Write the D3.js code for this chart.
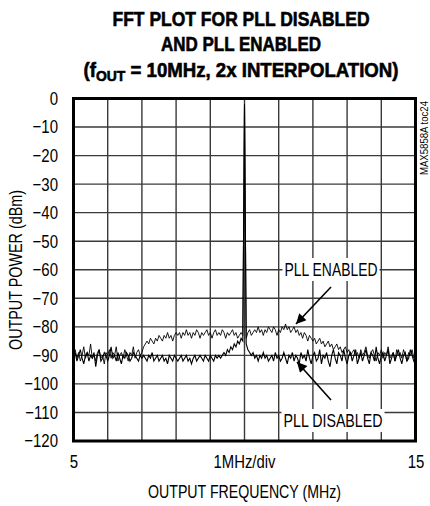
<!DOCTYPE html>
<html><head><meta charset="utf-8">
<script src="https://cdn.jsdelivr.net/npm/d3@7"></script>
<style>body{margin:0;background:#fff}</style>
</head><body><svg id="c" width="430" height="506"></svg>
<script>
// ---- data ----
const freqStart = 5, freqStep = 0.05;   // MHz, sample spacing of the traces
const pllEnabled = [
-90,-88,-91,-89,-92,-90,-87,-91,-89,-90,
-86,-91,-90,-92,-89,-88,-91,-90,-93,-89,
-90,-88,-91,-89,-90,-87,-92,-90,-89,-91,
-88,-90,-92,-89,-90,-87,-91,-89,-88,-90,
-89,
-87,-86,-85,-86,-84,-85,-86,-84,-85,-83,
-84,-85,-83,-84,-82,-84,-83,-85,-83,-82,
-83,-82,-84,-82,-83,-81,-83,-82,-84,-82,
-83,-81,-82,-84,-82,-83,-82,-81,-83,-82,
-84,-82,-81,-83,-82,-83,-81,-82,-84,-82,
-83,-82,-81,-83,-82,-84,-83,-82,-83,
-2,
-84,-82,-81,-83,-82,-81,-82,-80,-82,-81,
-83,-81,-82,-80,-81,-82,-80,-81,-83,-81,
-82,-80,-81,-79,-81,-80,-82,-81,-80,-82,
-81,-83,-82,-84,-82,-83,-85,-83,-84,-85,
-84,-86,-85,-84,-86,-85,-87,-86,-85,-87,
-86,-88,-87,-86,-88,-87,-89,-88,-87,-89,
-88,-90,-89,-88,-90,-89,-91,-88,-90,-89,
-87,-90,-91,-89,-88,-90,-92,-89,-90,-88,
-91,-89,-90,-87,-91,-90,-89,-92,-88,-90,
-89,-91,-88,-90,-92,-89,-90,-88,-91,-90
];
const pllDisabled = [
-91,-89,-92,-90,-88,-91,-93,-90,-89,-92,
-90,-91,-89,-94,-90,-88,-92,-91,-89,-90,
-92,-90,-87,-91,-90,-92,-89,-91,-93,-90,
-91,-89,-90,-92,-91,-89,-90,-91,-92,-90,
-91,
-90,-91,-92,-90,-91,-89,-92,-91,-90,-92,
-91,-90,-92,-91,-93,-90,-91,-92,-90,-91,
-92,-91,-90,-92,-91,-90,-92,-91,-93,-91,
-90,-92,-91,-90,-91,-92,-90,-91,-92,-90,
-91,-92,-90,-91,-90,
-91,-90,-89,-90,-88,-89,-87,-88,-86,-87,
-85,-86,-84,-85,
-3,
-86,-88,-89,-90,-89,-91,-90,-92,-90,-91,
-89,-91,-90,-92,-91,-90,-92,-89,-91,-90,
-92,-91,-89,-91,-93,-90,-91,-89,-92,-90,
-91,-93,-89,-91,-90,-92,-88,-91,-93,-90,
-89,-92,-91,-88,-93,-90,-91,-89,-92,-94,
-90,-88,-91,-93,-89,-90,-92,-88,-91,-93,
-90,-89,-92,-90,-88,-93,-91,-89,-92,-90,
-88,-91,-93,-89,-90,-92,-87,-91,-93,-90,
-89,-92,-90,-88,-93,-91,-89,-92,-90,-88,
-91,-93,-90,-89,-92,-91,-88,-90,-92,-91
];
const yTicks = [0,-10,-20,-30,-40,-50,-60,-70,-80,-90,-100,-110,-120];
const xGrid = [6,7,8,9,10,11,12,13,14];
const xTickLabels = [5,15];
const titleLines = ["FFT PLOT FOR PLL DISABLED","AND PLL ENABLED"];
const xCenterLabel = "1MHz/div";
const xTitle = "OUTPUT FREQUENCY (MHz)";
const yTitle = "OUTPUT POWER (dBm)";
const tocLabel = "MAX5858A toc24";

// ---- layout ----
const svg = d3.select("#c");
const M = {left:73.5, right:415.5, top:98.5, bottom:441};
const x = d3.scaleLinear().domain([5,15]).range([M.left,M.right]);
const y = d3.scaleLinear().domain([-120,0]).range([M.bottom,M.top]);
const FONT = "'Liberation Sans',Arial,Helvetica,sans-serif";

// condense text horizontally (emulates a narrow face)
function squeeze(sel, k){
  sel.each(function(){
    const w = this.getComputedTextLength();
    d3.select(this).attr("textLength", w*k).attr("lengthAdjust","spacingAndGlyphs");
  });
}
function fixLen(sel, w){ sel.attr("textLength", w).attr("lengthAdjust","spacingAndGlyphs"); }

// title
const tg = svg.append("g").attr("font-family",FONT).attr("font-weight","bold")
  .attr("font-size",20).attr("text-anchor","middle").attr("fill","#000")
  .attr("stroke","#000").attr("stroke-width",0.6);
const titleW = [257,160];
titleLines.forEach((t,i)=>fixLen(tg.append("text").attr("x",241).attr("y",25.5+i*25).text(t), titleW[i]));
const t3 = tg.append("text").attr("x",241).attr("y",76.5);
t3.append("tspan").text("(f");
t3.append("tspan").attr("font-size",15).attr("dy",4).text("OUT");
t3.append("tspan").attr("dy",-4).text(" = 10MHz, 2x INTERPOLATION)");
fixLen(t3, 315);

// grid
const grid = svg.append("g").attr("stroke","#3a3a3a").attr("stroke-width",1.4);
grid.selectAll("line.v").data(xGrid).join("line").attr("class","v")
  .attr("x1",d=>x(d)).attr("x2",d=>x(d)).attr("y1",M.top).attr("y2",M.bottom);
grid.selectAll("line.h").data(yTicks.slice(1,-1)).join("line").attr("class","h")
  .attr("y1",d=>y(d)).attr("y2",d=>y(d)).attr("x1",M.left).attr("x2",M.right);

// traces
svg.append("clipPath").attr("id","clip").append("rect")
  .attr("x",M.left).attr("y",M.top).attr("width",M.right-M.left).attr("height",M.bottom-M.top);
const line = d3.line().x((d,i)=>x(freqStart+i*freqStep)).y(d=>y(d));
const tr = svg.append("g").attr("clip-path","url(#clip)").attr("fill","none").attr("stroke","#000");
tr.append("path").datum(pllDisabled).attr("d",line).attr("stroke-width",1.1);
tr.append("path").datum(pllEnabled).attr("d",line).attr("stroke-width",0.9);

// annotations
svg.append("defs").append("marker").attr("id","ah").attr("viewBox","0 0 10 10")
  .attr("refX",10).attr("refY",5).attr("markerWidth",14).attr("markerHeight",10)
  .attr("markerUnits","userSpaceOnUse").attr("orient","auto")
  .append("path").attr("d","M0,0L10,5L0,10Z").attr("fill","#000");
const ann = [
  {text:"PLL ENABLED", cx:331, by:276, w:93, from:[331,287], to:[296,324]},
  {text:"PLL DISABLED", cx:333, by:427, w:99, from:[331,400], to:[297,362]}
];
ann.forEach(a=>{
  svg.append("rect").attr("x",a.cx-a.w/2-2).attr("y",a.by-18).attr("width",a.w+4).attr("height",23).attr("fill","#fff");
  fixLen(svg.append("text").attr("x",a.cx-a.w/2).attr("y",a.by).attr("font-family",FONT)
    .attr("font-size",19).text(a.text), a.w);
  svg.append("line").attr("x1",a.from[0]).attr("y1",a.from[1]).attr("x2",a.to[0]).attr("y2",a.to[1])
    .attr("stroke","#000").attr("stroke-width",1.6).attr("marker-end","url(#ah)");
});

// frame
svg.append("rect").attr("x",M.left).attr("y",M.top).attr("width",M.right-M.left).attr("height",M.bottom-M.top)
  .attr("fill","none").attr("stroke","#000").attr("stroke-width",3);

// axes labels
const ya = svg.append("g").attr("transform",`translate(${M.left},0)`)
  .call(d3.axisLeft(y).tickValues(yTicks).tickSize(0).tickPadding(15.5).tickFormat(d3.format("d")));
ya.select(".domain").remove();
ya.selectAll("text").attr("font-family",FONT).attr("font-size",18.5).attr("fill","#000").call(squeeze,0.81);

const xa = svg.append("g").attr("transform",`translate(0,${M.bottom})`)
  .call(d3.axisBottom(x).tickValues(xTickLabels).tickSize(0).tickPadding(14).tickFormat(d3.format("d")));
xa.select(".domain").remove();
xa.selectAll("text").attr("font-family",FONT).attr("font-size",18.5).attr("fill","#000").call(squeeze,0.81);

fixLen(svg.append("text").attr("x",x(10)).attr("y",468).attr("text-anchor","middle")
  .attr("font-family",FONT).attr("font-size",18.5).text(xCenterLabel), 62);
fixLen(svg.append("text").attr("x",x(10)).attr("y",498).attr("text-anchor","middle")
  .attr("font-family",FONT).attr("font-size",18.5).text(xTitle), 193);
fixLen(svg.append("text").attr("transform","translate(22,270) rotate(-90)").attr("text-anchor","middle")
  .attr("font-family",FONT).attr("font-size",19).text(yTitle), 160);
fixLen(svg.append("text").attr("transform","translate(428,101) rotate(-90)").attr("text-anchor","end")
  .attr("font-family",FONT).attr("font-size",10.5).text(tocLabel), 74);
</script></body></html>
